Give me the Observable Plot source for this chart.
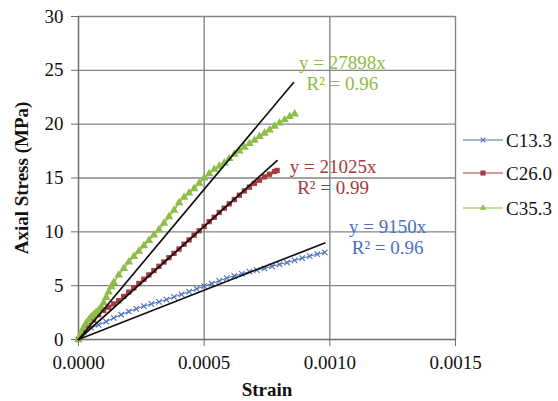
<!DOCTYPE html>
<html><head><meta charset="utf-8">
<script src="https://cdn.jsdelivr.net/npm/d3@7"></script>
<script src="https://cdn.jsdelivr.net/npm/@observablehq/plot@0.6"></script>
<style>
body{margin:0;background:#fff;}
#wrap{position:relative;width:558px;height:401px;font-family:"Liberation Serif","Times New Roman",serif;}
#legend{position:absolute;left:0;top:0;}
svg, svg g, svg text{font-family:"Liberation Serif","Times New Roman",serif !important;font-variant:normal !important;}
g[aria-label="x-axis label"] text, g[aria-label="y-axis label"] text{font-weight:bold;}
</style></head><body><div id="wrap"></div>
<script>
// ---- data ----
const seriesNames = ["C13.3", "C26.0", "C35.3"];

const c133Strain = [0,0.00002,0.00005,0.00008,0.00011,0.00014,0.00017,0.0002,0.00023,0.00026,0.00029,0.00032,0.00035,0.00038,0.00041,0.00044,0.00047,0.0005,0.00053,0.00056,0.00059,0.00062,0.00065,0.00068,0.00071,0.00074,0.00077,0.0008,0.00083,0.00086,0.00089,0.00092,0.00095,0.00098];
const c133Stress = [0,0.7,1.1,1.35,1.65,2.0,2.3,2.6,2.85,3.1,3.3,3.5,3.7,3.95,4.2,4.45,4.7,4.95,5.2,5.45,5.7,5.9,6.1,6.3,6.45,6.6,6.8,6.98,7.15,7.35,7.55,7.75,7.92,8.1];

const c260Strain = [0,0.00001,0.00002,0.00004,0.00006,0.00008,0.0001,0.00012,0.00014,0.00016,0.00018,0.0002,0.00022,0.00024,0.00026,0.00028,0.0003,0.00032,0.00034,0.00036,0.00038,0.0004,0.00042,0.00044,0.00046,0.00048,0.0005,0.00052,0.00054,0.00056,0.00058,0.0006,0.00062,0.00064,0.00066,0.00068,0.0007,0.00072,0.00074,0.00076,0.00078,0.00079];
const c260Stress = [0,0.4,0.8,1.3,1.8,2.3,2.7,3.0,3.3,3.6,4.0,4.4,4.8,5.2,5.6,6.0,6.4,6.8,7.2,7.6,8.0,8.4,8.85,9.25,9.7,10.1,10.5,10.95,11.35,11.8,12.2,12.6,13.0,13.4,13.8,14.15,14.5,14.8,15.1,15.35,15.6,15.7];

const c353Strain = [0,0.00001,0.00002,0.00003,0.00004,0.00005,0.00006,0.00007,0.00008,0.00009,0.0001,0.00011,0.00012,0.00013,0.00014,0.00016,0.00018,0.0002,0.00022,0.00024,0.00026,0.00028,0.0003,0.00032,0.00034,0.00036,0.00038,0.0004,0.00042,0.00044,0.00046,0.00048,0.0005,0.00052,0.00054,0.00056,0.00058,0.0006,0.00062,0.00064,0.00066,0.00068,0.0007,0.00072,0.00074,0.00076,0.00078,0.0008,0.00082,0.00084,0.00086];
const c353Stress = [0,0.6,1.1,1.5,1.8,2.1,2.3,2.5,2.7,3.0,3.4,3.9,4.4,4.9,5.3,6.0,6.6,7.2,7.7,8.2,8.7,9.2,9.7,10.2,10.8,11.4,12.0,12.7,13.2,13.6,14.0,14.5,15.0,15.4,15.8,16.1,16.4,16.8,17.2,17.5,17.85,18.2,18.5,18.85,19.15,19.45,19.8,20.1,20.4,20.7,20.95];

const trendSlopes = [9150, 21025, 27898];
const trendEndStrain = [0.00098, 0.00079, 0.000855];
const trendLabels = ["y = 9150x\nR² = 0.96", "y = 21025x\nR² = 0.99", "y = 27898x\nR² = 0.96"];

const xTicks = [0, 0.0005, 0.001, 0.0015];
const yTicks = [0, 5, 10, 15, 20, 25, 30];

// ---- styles / positions (not data) ----
const FONT = "'Liberation Serif','Times New Roman',serif";
const colors = ["#4d6fbe", "#a63a3c", "#8dbd45"];
const symbols = ["times", "square", "triangle"];
const labelAt = [[0.00123, 9.58], [0.001013, 15.09], [0.00105, 24.76]];

const series = [
  {strain: c133Strain, stress: c133Stress},
  {strain: c260Strain, stress: c260Stress},
  {strain: c353Strain, stress: c353Stress}
];
const rows = series.flatMap((s, i) => s.strain.map((x, j) => ({name: seriesNames[i], i, x, y: s.stress[j]})));
const trendRows = trendSlopes.flatMap((k, i) => [{i, x: 0, y: 0}, {i, x: trendEndStrain[i], y: k * trendEndStrain[i]}]);
const labelRows = trendLabels.map((t, i) => ({i, t, x: labelAt[i][0], y: labelAt[i][1]}));

const marks = [
  Plot.gridY(yTicks.filter(d => d > 0), {stroke: "#858585", strokeOpacity: 1, strokeWidth: 1.4}),
  Plot.gridX(xTicks.filter(d => d > 0), {stroke: "#858585", strokeOpacity: 1, strokeWidth: 1.4}),
  Plot.ruleX([0], {stroke: "#6e6e6e", strokeWidth: 1.5}),
  Plot.ruleY([0], {stroke: "#6e6e6e", strokeWidth: 1.5}),
  Plot.axisX(xTicks, {tickSize: 7, tickPadding: 9, tickFormat: d3.format(".4f"), stroke: "#6e6e6e", fontSize: 19, fontFamily: FONT, fill: "#111", label: "Strain", labelAnchor: "center", labelOffset: 56, labelArrow: "none"}),
  Plot.axisY(yTicks, {tickSize: 7, tickPadding: 8, stroke: "#6e6e6e", fontSize: 19, fontFamily: FONT, fill: "#111", label: "Axial Stress (MPa)", labelAnchor: "center", labelOffset: 64, labelArrow: "none"})
];
series.forEach((s, i) => {
  const d = rows.filter(r => r.i === i);
  marks.push(Plot.line(d, {x: "x", y: "y", stroke: colors[i], strokeWidth: i === 0 ? 1 : 1.6}));
  if (i === 0) marks.push(Plot.dot(d, {x: "x", y: "y", symbol: "times", r: 2.6, stroke: colors[i], strokeWidth: 1.1}));
  else marks.push(Plot.dot(d, {x: "x", y: "y", symbol: symbols[i], r: i === 1 ? 3 : 3.2, fill: colors[i], stroke: "none"}));
});
marks.push(Plot.line(trendRows, {x: "x", y: "y", z: "i", stroke: "#111", strokeWidth: 1.7}));
labelRows.forEach((l, i) => {
  marks.push(Plot.text([l], {x: "x", y: "y", text: "t", fill: colors[i], fontSize: 19, fontFamily: FONT, textAnchor: "middle", lineAnchor: "middle", lineHeight: 1.12}));
});

const chart = Plot.plot({
  width: 558, height: 401,
  marginLeft: 78, marginRight: 103, marginTop: 16, marginBottom: 62,
  style: {fontFamily: FONT, fontSize: "19px", color: "#111", background: "#fff"},
  x: {domain: [0, 0.0015]},
  y: {domain: [0, 30]},
  marks
});
document.getElementById("wrap").appendChild(chart);

// legend
const leg = d3.select("#wrap").append("svg").attr("id", "legend").attr("width", 558).attr("height", 401);
const legY = [140, 173, 208];
seriesNames.forEach((n, i) => {
  const g = leg.append("g").attr("transform", `translate(0,${legY[i]})`);
  g.append("line").attr("x1", 463).attr("x2", 503).attr("y1", 0).attr("y2", 0).attr("stroke", colors[i]).attr("stroke-width", 1);
  const sym = d3.symbol().type(i === 0 ? d3.symbolTimes : i === 1 ? d3.symbolSquare : d3.symbolTriangle).size(i === 0 ? 16 : i === 1 ? 26 : 18)();
  g.append("path").attr("d", sym).attr("transform", "translate(483,0)")
    .attr("fill", i === 0 ? "none" : colors[i]).attr("stroke", i === 0 ? colors[i] : "none").attr("stroke-width", 1.1);
  g.append("text").attr("x", 506).attr("y", 0).attr("dy", "0.35em").attr("font-size", 19)
    .attr("font-family", FONT).attr("fill", "#111").text(n);
});
</script></body></html>
